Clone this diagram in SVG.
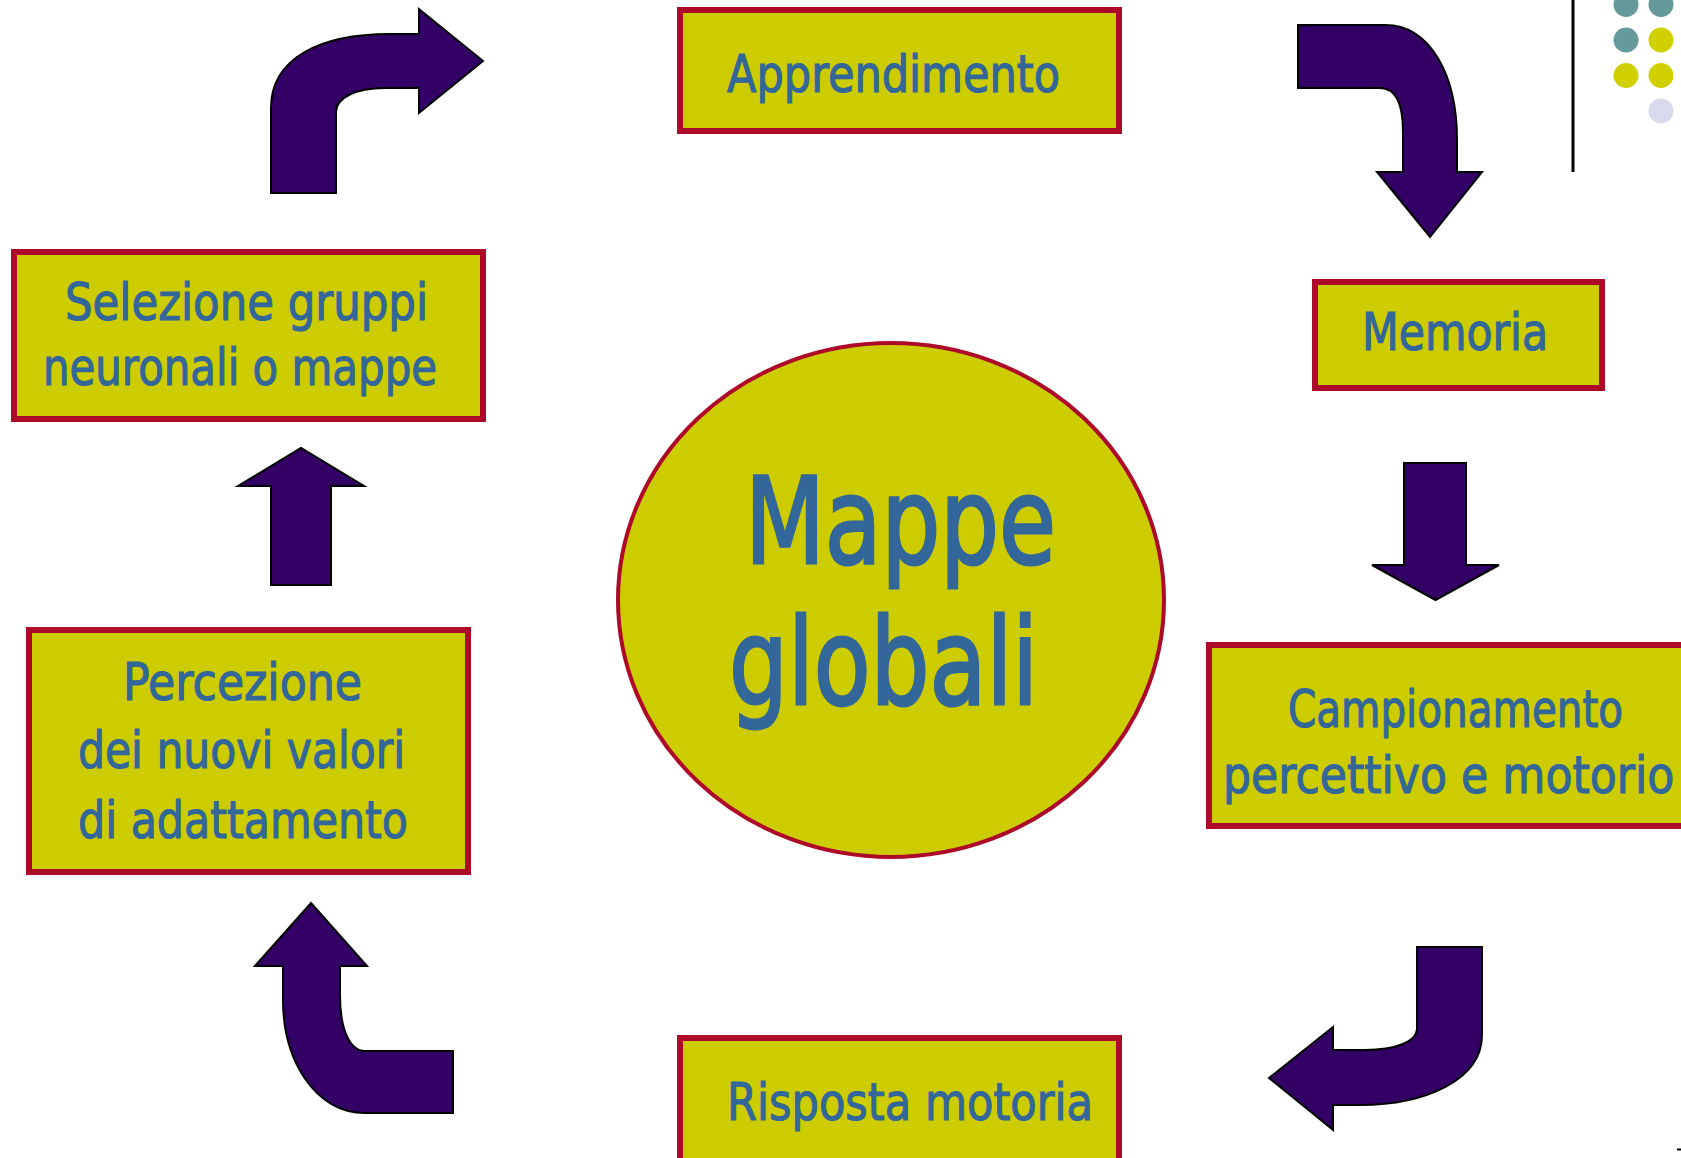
<svg xmlns="http://www.w3.org/2000/svg" width="1681" height="1158" viewBox="0 0 1681 1158">
<style>
.box{fill:#CCCC00;stroke:#AD0A2A;stroke-width:6}
.lbl{font-family:"DejaVu Sans","Liberation Sans",sans-serif;font-size:52px;fill:#336699;stroke:#336699;stroke-width:1.2}
.big{font-family:"DejaVu Sans","Liberation Sans",sans-serif;font-size:120px;fill:#336699;stroke:#336699;stroke-width:3}
.arr{fill:#330066;stroke:#000;stroke-width:2;stroke-linejoin:miter}
</style>
<rect width="1681" height="1158" fill="#fff"/>
<g id="decor">
<line x1="1573" y1="0" x2="1573" y2="172" stroke="#000" stroke-width="3"/>
<circle cx="1626" cy="4.5" r="12.5" fill="#669999"/>
<circle cx="1661" cy="4.5" r="12.5" fill="#669999"/>
<circle cx="1626" cy="40" r="12.5" fill="#669999"/>
<circle cx="1661" cy="40" r="12.5" fill="#D0D000"/>
<circle cx="1626" cy="75.5" r="12.5" fill="#D0D000"/>
<circle cx="1661" cy="75.5" r="12.5" fill="#D0D000"/>
<circle cx="1661" cy="111" r="12.5" fill="#D9D9EC"/>
<line x1="1677" y1="1149.5" x2="1681" y2="1149.5" stroke="#000" stroke-width="2"/>
</g>
<g id="center">
<ellipse cx="891" cy="600" rx="273" ry="257" fill="#CCCC00" stroke="#AD0A2A" stroke-width="4"/>
<text class="big" x="745" y="563" textLength="311" lengthAdjust="spacingAndGlyphs">Mappe</text>
<text class="big" x="729" y="704" textLength="309" lengthAdjust="spacingAndGlyphs">globali</text>
</g>
<g id="apprendimento">
<rect class="box" x="680" y="10" width="439" height="121"/>
<text class="lbl" x="727" y="92" textLength="333" lengthAdjust="spacingAndGlyphs">Apprendimento</text>
</g>
<g id="memoria">
<rect class="box" x="1315" y="282" width="287" height="106"/>
<text class="lbl" x="1362" y="350" textLength="186" lengthAdjust="spacingAndGlyphs">Memoria</text>
</g>
<g id="campionamento">
<rect x="1209" y="645" width="472" height="181" fill="#CCCC00"/>
<path d="M1681,645 H1209 V826 H1681" fill="none" stroke="#AD0A2A" stroke-width="6"/>
<text class="lbl" transform="translate(1288,727) scale(0.778,1)" x="0" y="0">Campionamento</text>
<text class="lbl" transform="translate(1223,793) scale(0.85,1)" x="0" y="0">percettivo e motorio</text>
</g>
<g id="risposta">
<rect x="680" y="1038" width="439" height="120" fill="#CCCC00"/>
<path d="M680,1158 V1038 H1119 V1158" fill="none" stroke="#AD0A2A" stroke-width="6"/>
<text class="lbl" x="727" y="1120" textLength="366" lengthAdjust="spacingAndGlyphs">Risposta motoria</text>
</g>
<g id="percezione">
<rect class="box" x="29" y="630" width="439" height="242"/>
<text class="lbl" x="123" y="700" textLength="239" lengthAdjust="spacingAndGlyphs">Percezione</text>
<text class="lbl" x="78" y="768" textLength="327" lengthAdjust="spacingAndGlyphs">dei nuovi valori</text>
<text class="lbl" x="78" y="838" textLength="330" lengthAdjust="spacingAndGlyphs">di adattamento</text>
</g>
<g id="selezione">
<rect class="box" x="14" y="252" width="469" height="167"/>
<text class="lbl" x="65" y="320" textLength="363" lengthAdjust="spacingAndGlyphs">Selezione gruppi</text>
<text class="lbl" x="43" y="385" textLength="394" lengthAdjust="spacingAndGlyphs">neuronali o mappe</text>
</g>
<g id="connectors">
<path class="arr" d="M271,193 L271,108 C271,58 320,34 390,34 L419,34 L419,9 L483,61 L419,113 L419,88 L385,88 C355,88 336,98 336,112 L336,193 Z"/>
<path class="arr" d="M1298,25 L1385,25 C1430,25 1457,75 1457,140 L1457,172 L1482,172 L1430,237 L1377,172 L1403,172 L1403,132 C1403,105 1396,88 1380,88 L1298,88 Z"/>
<path class="arr" d="M1404,463 L1466,463 L1466,565 L1499,565 L1435.5,600 L1372,565 L1404,565 Z"/>
<path class="arr" d="M1417,947 L1482,947 L1482,1035 C1482,1080 1425,1105 1360,1105 L1333,1105 L1333,1130 L1269,1078 L1333,1027 L1333,1050 L1365,1050 C1395,1050 1417,1042 1417,1028 Z"/>
<path class="arr" d="M311,903 L367,966 L340,966 L340,995 C340,1030 350,1051 365,1051 L453,1051 L453,1113 L365,1113 C315,1113 283,1060 283,1000 L283,966 L255,966 Z"/>
<path class="arr" d="M271,585 L271,486 L238,486 L301,448 L364,486 L331,486 L331,585 Z"/>
</g>
</svg>
